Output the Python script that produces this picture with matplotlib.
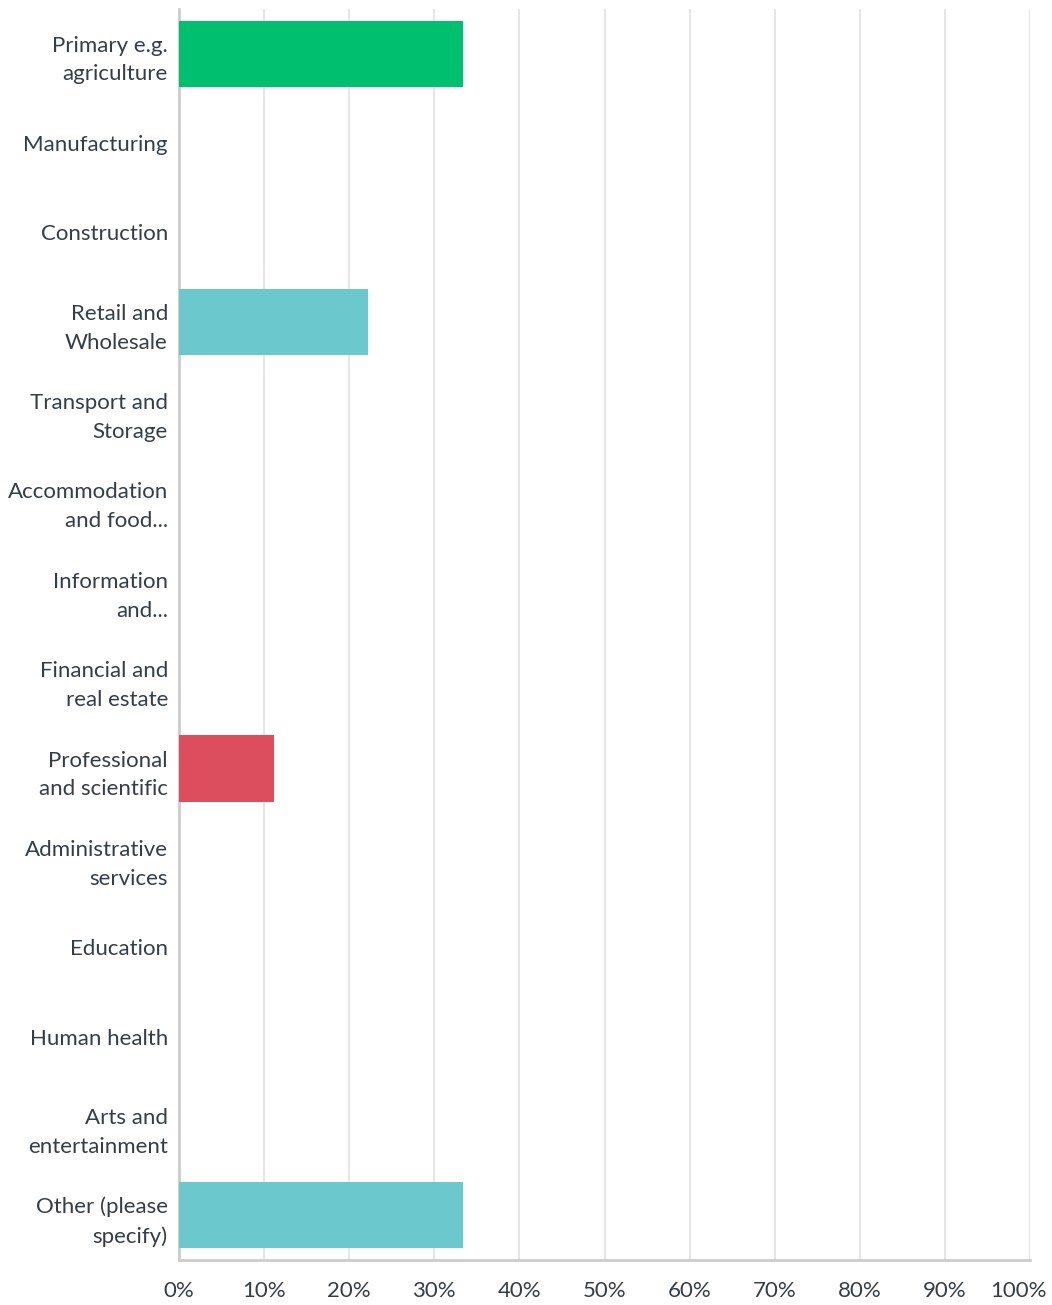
import numpy as np
import matplotlib.pyplot as plt
import matplotlib.transforms as mtransforms

labels = ["Primary e.g.\nagriculture", "Manufacturing", "Construction",
          "Retail and\nWholesale", "Transport and\nStorage",
          "Accommodation\nand food...", "Information\nand...",
          "Financial and\nreal estate", "Professional\nand scientific",
          "Administrative\nservices", "Education", "Human health",
          "Arts and\nentertainment", "Other (please\nspecify)"]
values = [33.33, 0, 0, 22.22, 0, 0, 0, 0, 11.11, 0, 0, 0, 0, 33.33]
colors = ["#00bf6f", "#00bf6f", "#00bf6f", "#6bc8cd", "#6bc8cd", "#6bc8cd",
          "#6bc8cd", "#6bc8cd", "#dc4e5e", "#6bc8cd", "#6bc8cd", "#6bc8cd",
          "#6bc8cd", "#6bc8cd"]
xticks = np.arange(0, 101, 10)

plt.rcParams['font.family'] = ['Lato', 'DejaVu Sans']
txt = "#333e48"

fig = plt.figure(figsize=(10.52, 13.05), dpi=100)
ax = fig.add_axes([179/1052, 1 - 1260/1305, (1030 - 179)/1052, 1251/1305])

y = np.arange(len(labels))
ax.barh(y, values, height=0.74, color=colors, zorder=3)
ax.set_ylim(len(labels) - 0.5, -0.5)
ax.set_xlim(0, 100)
ax.set_yticks(y)
ax.set_yticklabels(labels, fontsize=16, color=txt, linespacing=1.55, ha='right')
ax.set_xticks(xticks)
ax.set_xticklabels(["{}%".format(v) for v in xticks], fontsize=16, color=txt)
ax.tick_params(axis='y', length=0, pad=8)
ax.tick_params(axis='x', length=0, pad=15)
ax.grid(axis='x', color="#e6e6e6", linewidth=1.5, zorder=0)
for s in ['top', 'right']:
    ax.spines[s].set_visible(False)
ax.spines['left'].set_color("#cccccc")
ax.spines['left'].set_linewidth(2)
ax.spines['bottom'].set_color("#cccccc")
ax.spines['bottom'].set_linewidth(2)

# pull the 100% label inside the figure
last = ax.get_xticklabels()[-1]
last.set_transform(last.get_transform() +
                   mtransforms.ScaledTranslation(-12/100, 0, fig.dpi_scale_trans))

fig.savefig("out.png", dpi=100)
